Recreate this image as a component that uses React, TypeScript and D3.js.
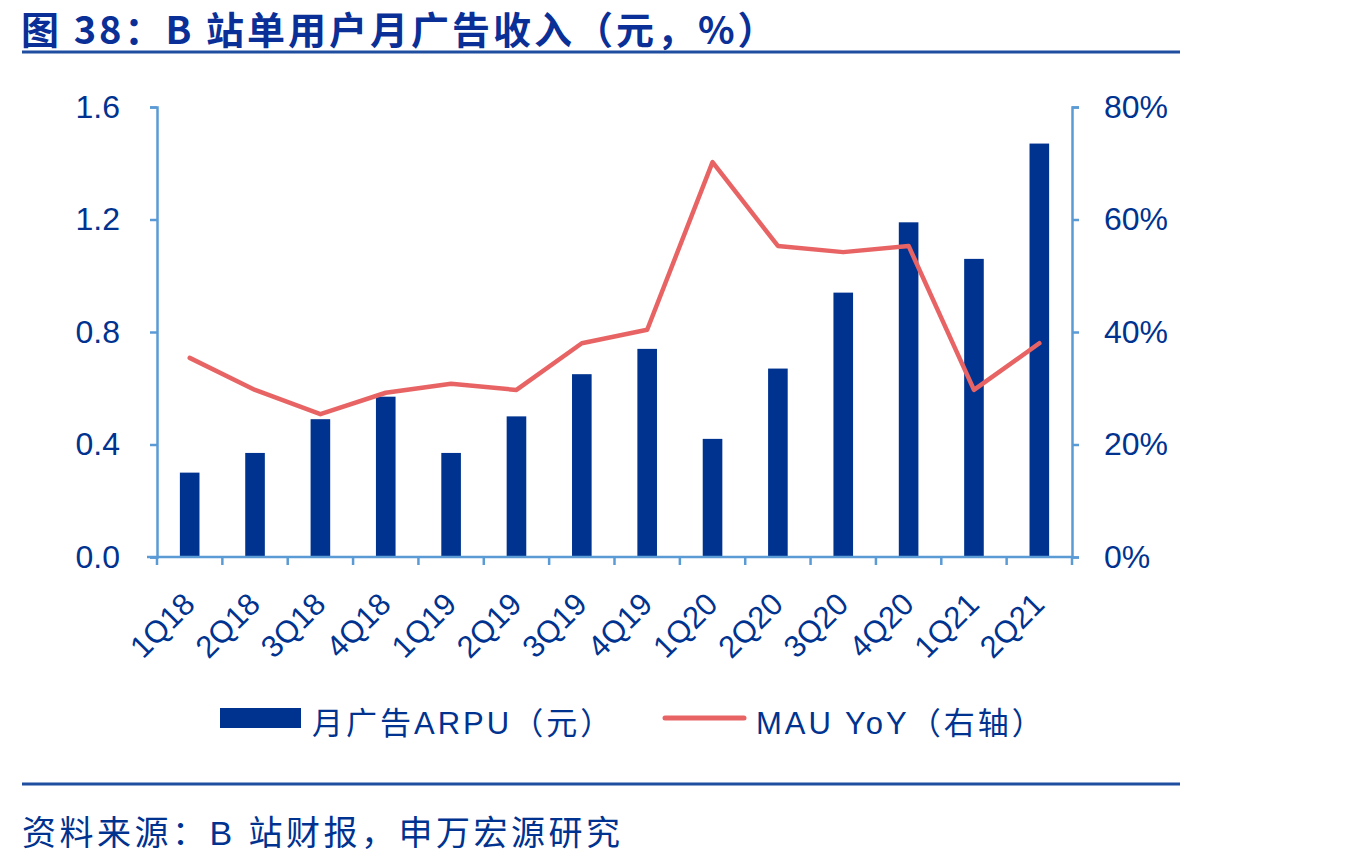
import React, { useEffect, useRef } from "react";
import * as d3 from "d3";

const width = 1348;
const height = 862;
const marginLeft = 157;
const marginRight = 276; // right axis at 1072
const marginTop = 107;
const plotBottom = 557;

const navy = "#00338f";
const axisBlue = "#5b9bd5";
const lineRed = "#e86464";
const textFont = "'Liberation Sans', Arial, 'Noto Sans CJK SC', sans-serif";
const cjkFont = "'Noto Sans CJK SC', 'Liberation Sans', sans-serif";

const quarters = ["1Q18", "2Q18", "3Q18", "4Q18", "1Q19", "2Q19", "3Q19", "4Q19", "1Q20", "2Q20", "3Q20", "4Q20", "1Q21", "2Q21"];
// 月广告ARPU（元）
const arpu = [0.3, 0.37, 0.49, 0.57, 0.37, 0.5, 0.65, 0.74, 0.42, 0.67, 0.94, 1.19, 1.06, 1.47];
// MAU YoY（%）
const mauYoy = [35.4, 29.7, 25.4, 29.2, 30.8, 29.7, 38.0, 40.4, 70.2, 55.3, 54.2, 55.3, 29.7, 38.0];
const leftTicks = [0, 0.4, 0.8, 1.2, 1.6];
const rightTicks = [0, 20, 40, 60, 80];

export default function App() {
  const ref = useRef<SVGSVGElement>(null);

  useEffect(() => {
    const svg = d3.select(ref.current);
    svg.selectAll("*").remove();

    const x = d3.scaleBand().domain(quarters).range([marginLeft, width - marginRight]).paddingInner(0.7).paddingOuter(0.35);
    const xBand = d3.scaleBand().domain(quarters).range([marginLeft, width - marginRight]);
    const yL = d3.scaleLinear().domain([0, 1.6]).range([plotBottom, marginTop]);
    const yR = d3.scaleLinear().domain([0, 80]).range([plotBottom, marginTop]);

    // 标题
    svg.append("text")
      .attr("x", 21).attr("y", 44)
      .attr("font-family", cjkFont).attr("font-weight", "bold").attr("font-size", 38)
      .attr("letter-spacing", 3)
      .attr("fill", "#0a2f96")
      .text("图 38：B 站单用户月广告收入（元，%）");
    svg.append("line").attr("x1", 22).attr("x2", 1180).attr("y1", 52).attr("y2", 52)
      .attr("stroke", "#1f4ea0").attr("stroke-width", 3);

    // 柱子
    svg.append("g").selectAll("rect").data(quarters).join("rect")
      .attr("x", d => x(d)!)
      .attr("width", x.bandwidth())
      .attr("y", (d, i) => yL(arpu[i]))
      .attr("height", (d, i) => plotBottom - yL(arpu[i]))
      .attr("fill", navy);

    // 左轴
    svg.append("g")
      .attr("transform", `translate(${marginLeft},0)`)
      .call(d3.axisLeft(yL).tickValues(leftTicks).tickFormat(d3.format(".1f")).tickSizeOuter(0).tickSize(7).tickPadding(30))
      .call(g => g.select(".domain").attr("stroke", axisBlue).attr("stroke-width", 2.5))
      .call(g => g.selectAll(".tick line").attr("stroke", axisBlue).attr("stroke-width", 2.5))
      .call(g => g.selectAll(".tick text").attr("fill", navy).attr("font-size", 32).attr("font-family", textFont));

    // 右轴
    svg.append("g")
      .attr("transform", `translate(${width - marginRight},0)`)
      .call(d3.axisRight(yR).tickValues(rightTicks).tickFormat(d => `${d}%`).tickSizeOuter(0).tickSize(7).tickPadding(25))
      .call(g => g.select(".domain").attr("stroke", axisBlue).attr("stroke-width", 2.5))
      .call(g => g.selectAll(".tick line").attr("stroke", axisBlue).attr("stroke-width", 2.5))
      .call(g => g.selectAll(".tick text").attr("fill", navy).attr("font-size", 32).attr("font-family", textFont));

    // X 轴
    const xg = svg.append("g").attr("transform", `translate(0,${plotBottom})`);
    xg.append("line").attr("x1", marginLeft - 10).attr("x2", width - marginRight).attr("stroke", axisBlue).attr("stroke-width", 2.5);
    const bounds = [...quarters.map(q => xBand(q)!), width - marginRight];
    xg.selectAll(".tk").data(bounds).join("line")
      .attr("x1", d => d).attr("x2", d => d).attr("y1", 0).attr("y2", 8)
      .attr("stroke", axisBlue).attr("stroke-width", 2.5);
    xg.selectAll(".lbl").data(quarters).join("text")
      .attr("transform", d => `translate(${xBand(d)! + xBand.bandwidth() / 2 + 7},${49}) rotate(-45)`)
      .attr("text-anchor", "end")
      .attr("fill", navy).attr("font-size", 31).attr("font-family", textFont)
      .text(d => d);

    // 折线
    const line = d3.line<number>()
      .x((d, i) => xBand(quarters[i])! + xBand.bandwidth() / 2)
      .y(d => yR(d));
    svg.append("path").datum(mauYoy)
      .attr("fill", "none").attr("stroke", lineRed).attr("stroke-width", 4.5)
      .attr("stroke-linejoin", "round").attr("stroke-linecap", "round")
      .attr("d", line);

    // 图例
    const lg = svg.append("g");
    lg.append("rect").attr("x", 220).attr("y", 708).attr("width", 81).attr("height", 20).attr("fill", navy);
    lg.append("text").attr("x", 312).attr("y", 734)
      .attr("fill", navy).attr("font-size", 31).attr("font-family", textFont).attr("letter-spacing", 3)
      .text("月广告ARPU（元）");
    lg.append("line").attr("x1", 665).attr("x2", 744).attr("y1", 718).attr("y2", 718)
      .attr("stroke", lineRed).attr("stroke-width", 5).attr("stroke-linecap", "round");
    lg.append("text").attr("x", 756).attr("y", 734)
      .attr("fill", navy).attr("font-size", 31).attr("font-family", textFont).attr("letter-spacing", 3)
      .text("MAU YoY（右轴）");

    // 底部
    svg.append("line").attr("x1", 22).attr("x2", 1180).attr("y1", 784).attr("y2", 784)
      .attr("stroke", "#1f4ea0").attr("stroke-width", 3);
    svg.append("text").attr("x", 22).attr("y", 845)
      .attr("fill", navy).attr("font-size", 34).attr("font-family", textFont).attr("letter-spacing", 3.5)
      .text("资料来源：B 站财报，申万宏源研究");
  }, []);

  return (
    <svg ref={ref} width={width} height={height} viewBox={`0 0 ${width} ${height}`}
      style={{ position: "absolute", left: 0, top: 0, background: "#fff" }} />
  );
}
